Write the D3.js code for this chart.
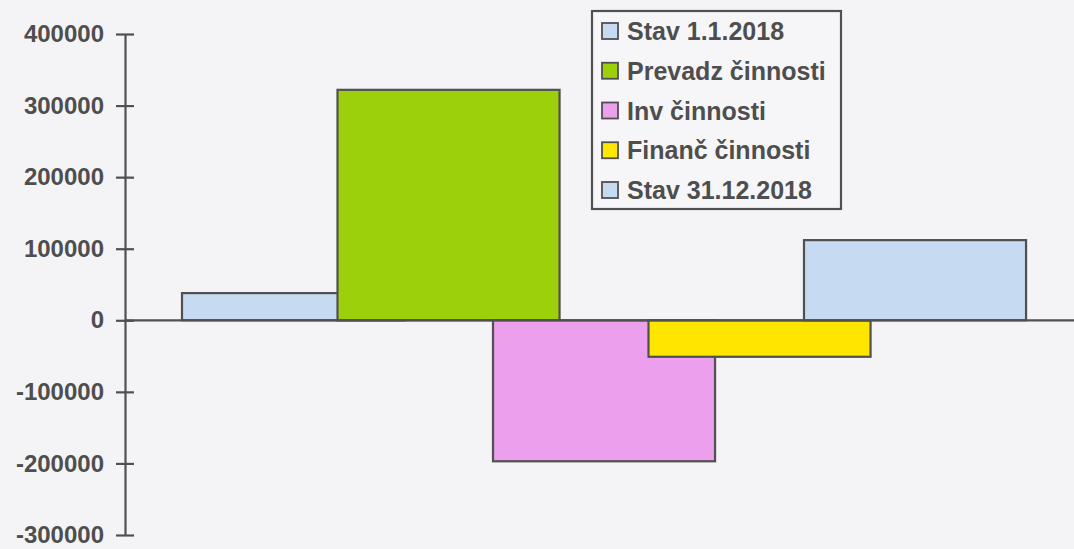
<!DOCTYPE html>
<html>
<head>
<meta charset="utf-8">
<script src="https://cdn.jsdelivr.net/npm/d3@7"></script>
<style>
  html, body { margin: 0; padding: 0; background: #f4f4f6; }
  svg { display: block; }
  text { font-family: "Liberation Sans", Arial, sans-serif; font-weight: bold; fill: #4e4e4e; }
</style>
</head>
<body>
<svg id="chart" width="1074" height="549"></svg>
<script>
const categories = ["Stav 1.1.2018", "Prevadz činnosti", "Inv činnosti", "Finanč činnosti", "Stav 31.12.2018"];
const values = [38000, 322000, -197000, -51000, 112000];
const colors = ["#c6dbf2", "#9bd00a", "#ec9fec", "#ffe600", "#c6dbf2"];
const yTicks = [-300000, -200000, -100000, 0, 100000, 200000, 300000, 400000];

const svg = d3.select("#chart");
const W = 1074, H = 549;
const axisX = 125;
const stroke = "#505050";

const y = d3.scaleLinear().domain([-300000, 400000]).range([535, 34]);
const x = d3.scaleBand().domain(categories).range([182, 959.5]).padding(0);
const barW = x.bandwidth() * 1.428;

// bars (later series drawn on top)
svg.append("g").selectAll("rect")
  .data(categories.map((c, i) => ({ c, v: values[i], col: colors[i] })))
  .join("rect")
  .attr("x", d => x(d.c))
  .attr("y", d => y(Math.max(0, d.v)))
  .attr("width", barW)
  .attr("height", d => Math.abs(y(d.v) - y(0)))
  .attr("fill", d => d.col)
  .attr("stroke", stroke)
  .attr("stroke-width", 2.2);

// zero line
svg.append("line")
  .attr("x1", axisX).attr("x2", W)
  .attr("y1", y(0)).attr("y2", y(0))
  .attr("stroke", stroke).attr("stroke-width", 2.2);

// y axis
const axis = d3.axisLeft(y).tickValues(yTicks).tickFormat(d => String(d)).tickSizeInner(9).tickSizeOuter(0).tickPadding(12);
const gAxis = svg.append("g").attr("transform", `translate(${axisX},0)`).call(axis);
gAxis.select(".domain").attr("stroke", stroke).attr("stroke-width", 2.2);
gAxis.selectAll(".tick line").attr("x1", -9).attr("x2", 9).attr("stroke", stroke).attr("stroke-width", 2.2);
gAxis.selectAll(".tick text")
  .attr("font-size", 24)
  .attr("font-family", "'Liberation Sans', Arial, sans-serif")
  .attr("font-weight", "bold")
  .attr("fill", "#4e4e4e");

// legend
const lg = svg.append("g");
lg.append("rect")
  .attr("x", 592).attr("y", 11).attr("width", 249).attr("height", 198)
  .attr("fill", "#f6f6f8").attr("stroke", stroke).attr("stroke-width", 2.2);
const rowY = d3.scalePoint().domain(categories).range([31, 190]);
const items = lg.selectAll("g.item").data(categories.map((c, i) => ({ c, col: colors[i] })))
  .join("g").attr("class", "item")
  .attr("transform", d => `translate(602,${rowY(d.c)})`);
items.append("rect")
  .attr("x", 0).attr("y", -8).attr("width", 16).attr("height", 16)
  .attr("fill", d => d.col).attr("stroke", stroke).attr("stroke-width", 1.8);
items.append("text")
  .attr("x", 25).attr("y", 0).attr("dy", "0.36em")
  .attr("font-size", 25)
  .text(d => d.c);
</script>
</body>
</html>
